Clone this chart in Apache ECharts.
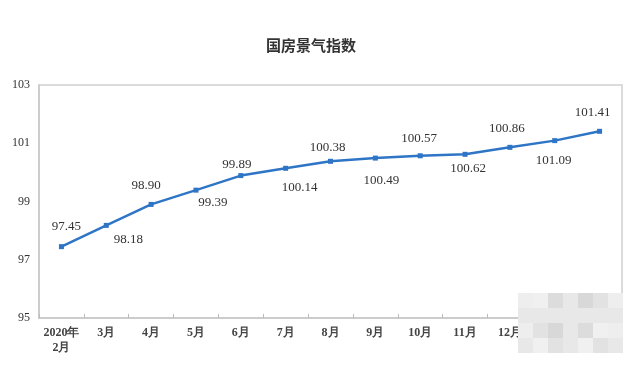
<!DOCTYPE html>
<html><head><meta charset="utf-8">
<script src="https://cdn.jsdelivr.net/npm/echarts@6/dist/echarts.min.js"></script>
<style>html,body{margin:0;padding:0;background:#fff}#c{width:640px;height:373px}</style>
</head><body><div id="c"></div>
<script>
const categories = ['2020年\n2月','3月','4月','5月','6月','7月','8月','9月','10月','11月','12月','2021年\n1月','2月'];
const values = [97.45, 98.18, 98.90, 99.39, 99.89, 100.14, 100.38, 100.49, 100.57, 100.62, 100.86, 101.09, 101.41];
const yTicks = [95, 97, 99, 101, 103];

// label placement (layout only, pixel offsets from each point)
const labelOffsets = [[5,-20],[22,14],[-5,-19],[17,12],[-4,-11],[14,19],[-3,-14],[6,22],[-1,-17],[3,14],[-3,-19],[-1,20],[-7,-19]];

const chart = echarts.init(document.getElementById('c'), null, {renderer:'canvas'});
const serif = '"Liberation Serif","DejaVu Serif",serif';
const mosaic = [];
const shades = ['#eeeeee','#e2e2e2','#d8d8d8','#e8e8e8','#dcdcdc','#f0f0f0'];
for (let r = 0; r < 4; r++) for (let c = 0; c < 7; c++) {
  mosaic.push({type:'rect', shape:{x:518+c*15, y:293+r*15, width:15, height:15},
    style:{fill: shades[(r*3+c*5+r*c)%shades.length]}, z:100, silent:true});
}
chart.setOption({
  animation:false,
  backgroundColor:'#fff',
  title:{text:'国房景气指数', left:306, top:33, textAlign:'center',
    textStyle:{fontSize:15, fontWeight:'bold', color:'#333', fontFamily:'"Noto Sans CJK SC",sans-serif'}},
  grid:{left:39, right:18, top:85, bottom:55, show:true, borderColor:'#d0d0d0', borderWidth:1.5, containLabel:false},
  xAxis:{type:'category', data:categories, boundaryGap:true,
    axisLine:{lineStyle:{color:'#c8c8c8', width:1.5}},
    axisTick:{show:true, inside:true, length:4, lineStyle:{color:'#bbbbbb'}},
    axisLabel:{color:'#444', fontSize:12, fontWeight:'bold', fontFamily:serif, margin:7, lineHeight:15, interval:0}},
  yAxis:{type:'value', min:95, max:103, interval:2,
    axisLine:{show:true, lineStyle:{color:'#c8c8c8', width:1.5}},
    axisTick:{show:false}, splitLine:{show:false},
    axisLabel:{color:'#333', fontSize:12, fontFamily:serif, margin:9,
      formatter:v => yTicks.includes(v) ? String(v) : ''}},
  series:[{type:'line',
    data:values.map((v,i)=>({value:v, label:{position:'inside', offset:labelOffsets[i]}})),
    symbol:'rect', symbolSize:5,
    lineStyle:{color:'#2e75c6', width:2.5}, itemStyle:{color:'#2e75c6'},
    label:{show:true, color:'#333', fontSize:13, fontFamily:serif, align:'center', verticalAlign:'middle',
      formatter:p=>p.value.toFixed(2)}}],
  graphic: mosaic
});
</script></body></html>
